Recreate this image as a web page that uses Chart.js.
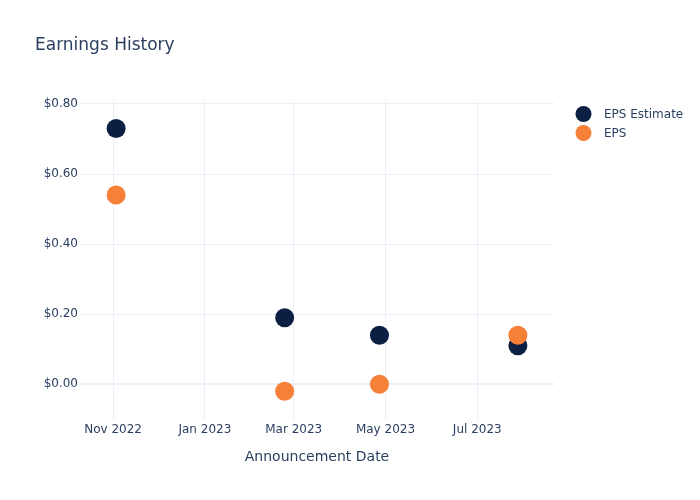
<!DOCTYPE html>
<html>
<head>
<meta charset="utf-8">
<script src="https://cdn.jsdelivr.net/npm/chart.js@4.4.1/dist/chart.umd.min.js"></script>
<style>
  html, body { margin: 0; padding: 0; background: #fff; }
  #wrap { width: 700px; height: 500px; position: relative; }
</style>
</head>
<body>
<div id="wrap"><canvas id="chart"></canvas></div>
<script>
// announcement dates (UTC) and values
const announceDates = ['2022-11-03', '2023-02-23', '2023-04-27', '2023-07-28'];
const epsEstimate = [0.73, 0.19, 0.14, 0.11];
const epsActual = [0.54, -0.02, 0.00, 0.14];
const yTicks = [0, 0.2, 0.4, 0.6, 0.8];
const xTickDates = ['2022-11-01', '2023-01-01', '2023-03-01', '2023-05-01', '2023-07-01'];
const monthNames = ['Jan', 'Feb', 'Mar', 'Apr', 'May', 'Jun', 'Jul', 'Aug', 'Sep', 'Oct', 'Nov', 'Dec'];

const FONT = '"DejaVu Sans", sans-serif';
const TEXT = '#2a3f5f';
const GRID = '#ebf0f8';
const NAVY = '#0b1f42';
const ORANGE = '#f68038';

const ts = s => Date.parse(s + 'T00:00:00Z');
const toPoints = vals => announceDates.map((d, i) => ({ x: ts(d), y: vals[i] }));

// title + legend drawn by hand, plotly-style
const decorations = {
  id: 'decorations',
  afterDraw(chart) {
    const ctx = chart.ctx;
    ctx.save();
    ctx.fillStyle = TEXT;
    ctx.font = '17px ' + FONT;
    ctx.textBaseline = 'middle';
    ctx.textAlign = 'left';
    ctx.fillText('Earnings History', 35, 45.5);

    const items = [
      { label: 'EPS Estimate', color: NAVY },
      { label: 'EPS', color: ORANGE }
    ];
    ctx.font = '12px ' + FONT;
    items.forEach((it, i) => {
      const y = 114 + i * 19;
      ctx.beginPath();
      ctx.arc(583.5, y, 8, 0, Math.PI * 2);
      ctx.fillStyle = it.color;
      ctx.fill();
      ctx.fillStyle = TEXT;
      ctx.fillText(it.label, 604, y + 1);
    });
    ctx.restore();
  }
};

new Chart(document.getElementById('chart'), {
  type: 'scatter',
  data: {
    datasets: [
      {
        label: 'EPS',
        data: toPoints(epsActual),
        backgroundColor: ORANGE,
        pointRadius: 9.5,
        pointHoverRadius: 9.5,
        pointBorderWidth: 0,
        order: 0
      },
      {
        label: 'EPS Estimate',
        data: toPoints(epsEstimate),
        backgroundColor: NAVY,
        pointRadius: 9.5,
        pointHoverRadius: 9.5,
        pointBorderWidth: 0,
        order: 1
      }
    ]
  },
  options: {
    responsive: true,
    maintainAspectRatio: false,
    animation: false,
    layout: { padding: { top: 100, right: 146, bottom: 0, left: 0 } },
    plugins: {
      legend: { display: false },
      title: { display: false },
      tooltip: { enabled: false }
    },
    scales: {
      x: {
        type: 'linear',
        min: ts('2022-10-10'),
        max: ts('2023-08-21'),
        afterBuildTicks: scale => { scale.ticks = xTickDates.map(d => ({ value: ts(d) })); },
        afterFit: scale => { scale.height = 80; },
        border: { display: false },
        grid: { color: GRID, lineWidth: 1, drawTicks: false },
        ticks: {
          padding: 3,
          color: TEXT,
          font: { family: FONT, size: 12 },
          maxRotation: 0,
          callback: v => {
            const d = new Date(v);
            return monthNames[d.getUTCMonth()] + ' ' + d.getUTCFullYear();
          }
        },
        title: {
          display: true,
          text: 'Announcement Date',
          color: TEXT,
          font: { family: FONT, size: 14 },
          padding: { top: 0, bottom: 34 }
        }
      },
      y: {
        min: -0.102,
        max: 0.8114,
        afterBuildTicks: scale => { scale.ticks = yTicks.map(v => ({ value: v })); },
        afterFit: scale => { scale.width = 80; },
        border: { display: false },
        grid: {
          color: GRID,
          lineWidth: c => (c.tick && c.tick.value === 0 ? 2 : 1),
          drawTicks: false
        },
        ticks: {
          padding: 2,
          color: TEXT,
          font: { family: FONT, size: 12 },
          callback: v => (v < 0 ? '-$' : '$') + Math.abs(v).toFixed(2)
        }
      }
    }
  },
  plugins: [decorations]
});
</script>
</body>
</html>
